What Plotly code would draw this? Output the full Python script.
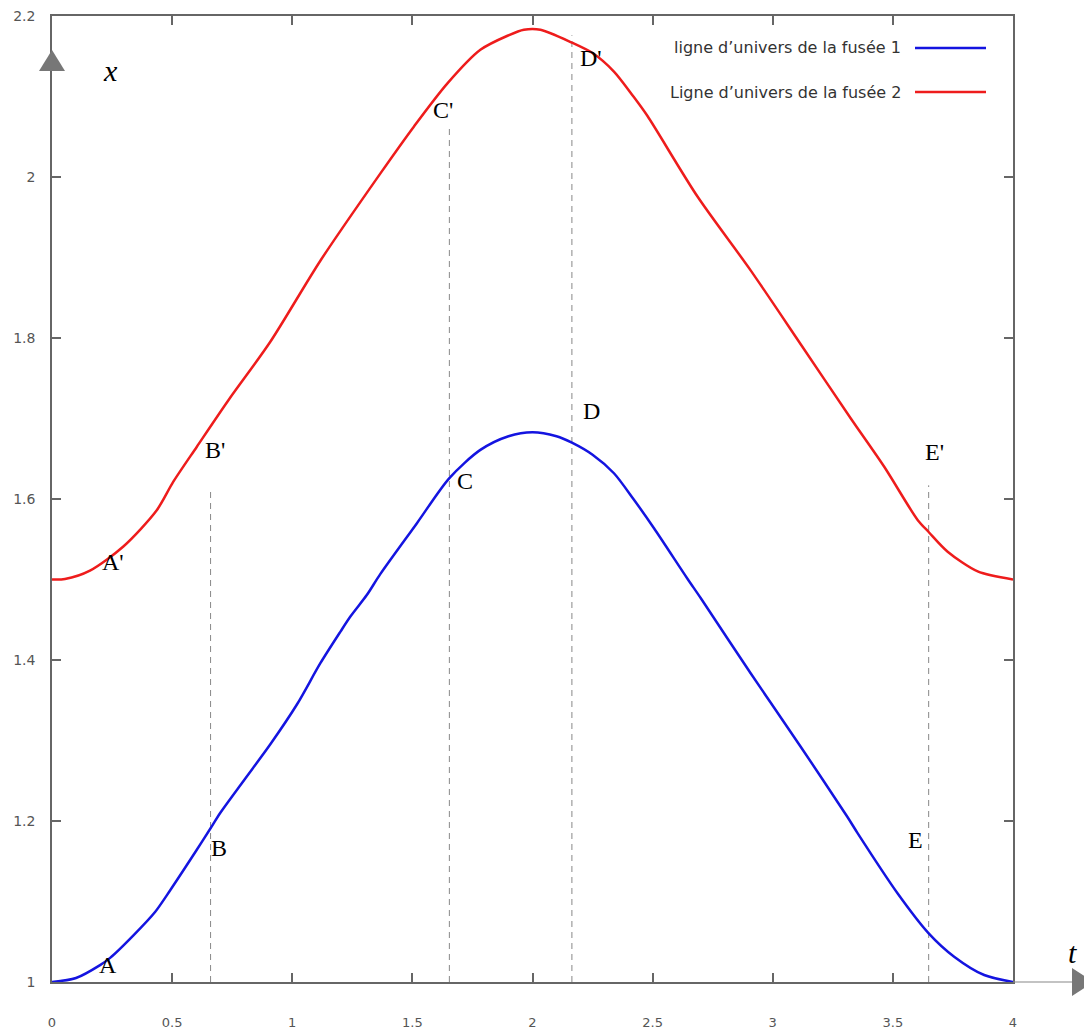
import plotly.graph_objects as go

# World line of rocket 1 (time t, position x)
t_rocket1 = [0.0, 0.10, 0.20, 0.242, 0.339, 0.429, 0.492, 0.60, 0.66, 0.70, 0.80, 0.908,
             1.02, 1.117, 1.20, 1.242, 1.311, 1.367, 1.519, 1.654, 1.783, 1.90, 2.0,
             2.10, 2.164, 2.25, 2.339, 2.42, 2.505, 2.645, 2.70, 2.908, 3.117, 3.311, 3.353,
             3.52, 3.649, 3.755, 3.88, 4.0]
x_rocket1 = [1.0, 1.005, 1.021, 1.030, 1.058, 1.087, 1.114, 1.163, 1.191, 1.21, 1.251, 1.295,
             1.345, 1.396, 1.435, 1.454, 1.481, 1.507, 1.570, 1.626, 1.661, 1.678, 1.683,
             1.678, 1.670, 1.655, 1.632, 1.600, 1.564, 1.501, 1.477, 1.3835, 1.292, 1.205,
             1.185, 1.110, 1.0605, 1.0315, 1.0087, 1.0]

# World line of rocket 2
t_rocket2 = [0.0, 0.054, 0.158, 0.297, 0.436, 0.505, 0.603, 0.735, 0.908, 1.117, 1.367,
             1.506, 1.645, 1.783, 1.90, 1.964, 2.033, 2.164, 2.25, 2.339, 2.42, 2.478, 2.686,
             2.908, 3.117, 3.325, 3.464, 3.603, 3.649, 3.728, 3.853, 4.0]
x_rocket2 = [1.5, 1.5006, 1.511, 1.541, 1.586, 1.6215, 1.665, 1.723, 1.795, 1.896, 2.0045,
             2.0625, 2.116, 2.158, 2.176, 2.183, 2.183, 2.167, 2.154, 2.131, 2.100, 2.076,
             1.976, 1.884, 1.792, 1.700, 1.640, 1.574, 1.559, 1.5345, 1.510, 1.5]

# Vertical dashed markers (time, top of the dashed segment)
mark_t = [0.66, 1.654, 2.164, 3.649]
mark_top = [1.612, 2.061, 2.176, 1.617]

# Event labels and their positions
event_names = ["A", "B", "C", "D", "E", "F", "A'", "B'", "C'", "D'", "E'", "F'"]
event_t = [0.233, 0.696, 1.717, 2.246, 3.596, 4.096, 0.254, 0.679, 1.629, 2.242, 3.675, 4.083]
event_x = [1.021, 1.166, 1.622, 1.709, 1.176, 1.026, 1.522, 1.661, 2.083, 2.148, 1.658, 1.539]

legend_names = ["ligne d\u2019univers de la fus\u00e9e 1", "Ligne d\u2019univers de la fus\u00e9e 2"]
x_ticks = [0, 0.5, 1, 1.5, 2, 2.5, 3, 3.5, 4]
x_tick_text = ["0", "0.5", "1", "1.5", "2", "2.5", "3", "3.5", "4"]
y_ticks = [1, 1.2, 1.4, 1.6, 1.8, 2, 2.2]
y_tick_text = ["1", "1.2", "1.4", "1.6", "1.8", "2", "2.2"]

BLUE = "#1414e0"
RED = "#ee1c1c"
AXIS = "#666666"
GRAY = "#888888"

W, H = 1084, 1034
L, R, T, B = 52, 71, 16, 52
PW, PH = W - L - R, H - T - B


def px(xp):
    return (xp - L) / PW


def py(yp):
    return (H - B - yp) / PH


fig = go.Figure()

for tt, top in zip(mark_t, mark_top):
    fig.add_trace(go.Scatter(x=[tt, tt], y=[1.0, top], mode="lines",
                             line=dict(color=GRAY, width=1, dash="6px,5px"),
                             hoverinfo="skip", showlegend=False))

fig.add_trace(go.Scatter(x=t_rocket1, y=x_rocket1, mode="lines", name=legend_names[0],
                         line=dict(color=BLUE, width=2.5, shape="spline", smoothing=0.8),
                         showlegend=False))
fig.add_trace(go.Scatter(x=t_rocket2, y=x_rocket2, mode="lines", name=legend_names[1],
                         line=dict(color=RED, width=2.5, shape="spline", smoothing=0.8),
                         showlegend=False))

serif = "Liberation Serif, Times New Roman, serif"
sans = "DejaVu Sans, Arial, sans-serif"
annotations = []
for name, tt, xx in zip(event_names, event_t, event_x):
    annotations.append(dict(x=tt, y=xx, xref="x", yref="y", text=name, showarrow=False,
                            xanchor="center", yanchor="middle",
                            font=dict(family=serif, size=24, color="black")))

# axis names
annotations.append(dict(x=px(110), y=py(70), xref="paper", yref="paper", text="<i>x</i>",
                        xanchor="center", yanchor="middle", showarrow=False,
                        font=dict(family=serif, size=30, color="black")))
annotations.append(dict(x=px(1072), y=py(952), xref="paper", yref="paper", text="<i>t</i>",
                        xanchor="center", yanchor="middle", showarrow=False,
                        font=dict(family=serif, size=30, color="black")))

# legend texts
for name, yp in zip(legend_names, [48, 92]):
    annotations.append(dict(x=px(903), y=py(yp), xref="paper", yref="paper", text=name,
                            xanchor="right", yanchor="middle", showarrow=False,
                            font=dict(family=sans, size=16, color="#333333")))

shapes = []
for color, yp in zip([BLUE, RED], [48, 92]):
    shapes.append(dict(type="line", xref="paper", yref="paper", x0=px(915), x1=px(986),
                       y0=py(yp), y1=py(yp), line=dict(color=color, width=2.5)))

# axis arrows
shapes.append(dict(type="path", xref="paper", yref="paper",
                   path=f"M {px(52)} {py(50)} L {px(39)} {py(71)} L {px(65)} {py(71)} Z",
                   fillcolor="#777777", line=dict(width=0)))
shapes.append(dict(type="line", xref="paper", yref="paper", x0=px(1013), x1=px(1074),
                   y0=py(982), y1=py(982), line=dict(color="#888888", width=1.2)))
shapes.append(dict(type="path", xref="paper", yref="paper",
                   path=f"M {px(1072)} {py(968)} L {px(1094)} {py(982)} L {px(1072)} {py(996)} Z",
                   fillcolor="#777777", line=dict(width=0)))

y_tick_font = dict(family=sans, size=14, color="#555555")
x_tick_font = dict(family=sans, size=13, color="#555555")

fig.update_layout(
    width=W, height=H,
    margin=dict(l=L, r=R, t=T, b=B, autoexpand=False),
    paper_bgcolor="white", plot_bgcolor="white",
    annotations=annotations, shapes=shapes,
    showlegend=False,
    xaxis=dict(range=[0, 4], tickvals=x_ticks, ticktext=x_tick_text, showgrid=False,
               zeroline=False, showline=True, linecolor=AXIS, linewidth=1.5, mirror="ticks",
               ticks="inside", ticklen=9, tickcolor=AXIS, tickwidth=1.5, tickfont=x_tick_font,
               ticklabelstandoff=28, automargin=False),
    yaxis=dict(range=[1, 2.2], tickvals=y_ticks, ticktext=y_tick_text, showgrid=False,
               zeroline=False, showline=True, linecolor=AXIS, linewidth=1.5, mirror="ticks",
               ticks="inside", ticklen=9, tickcolor=AXIS, tickwidth=1.5, tickfont=y_tick_font,
               ticklabelstandoff=12, automargin=False),
)

fig.write_html("out.html")
